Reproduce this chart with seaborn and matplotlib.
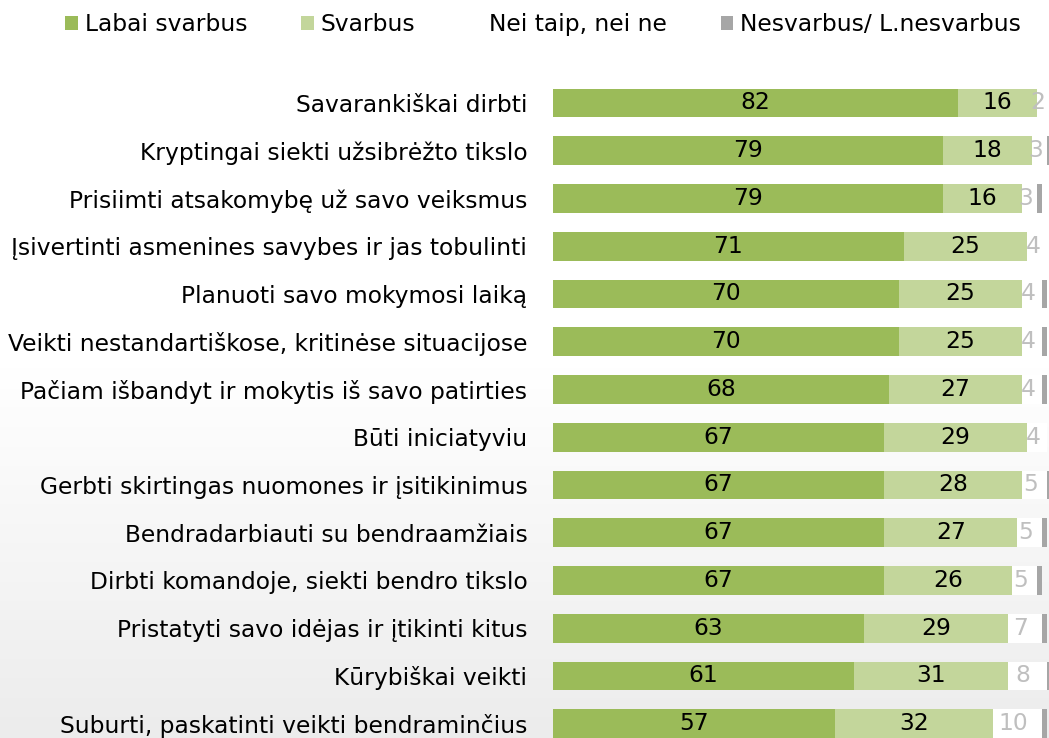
import numpy as np
import pandas as pd
import matplotlib
matplotlib.use("Agg")
import matplotlib.pyplot as plt
import seaborn as sns
from matplotlib.patches import Patch
from matplotlib.colors import LinearSegmentedColormap

categories = [
    "Savarankiškai dirbti",
    "Kryptingai siekti užsibrėžto tikslo",
    "Prisiimti atsakomybę už savo veiksmus",
    "Įsivertinti asmenines savybes ir jas tobulinti",
    "Planuoti savo mokymosi laiką",
    "Veikti nestandartiškose, kritinėse situacijose",
    "Pačiam išbandyt ir mokytis iš savo patirties",
    "Būti iniciatyviu",
    "Gerbti skirtingas nuomones ir įsitikinimus",
    "Bendradarbiauti su bendraamžiais",
    "Dirbti komandoje, siekti bendro tikslo",
    "Pristatyti savo idėjas ir įtikinti kitus",
    "Kūrybiškai veikti",
    "Suburti, paskatinti veikti bendraminčius",
]
labai = [82, 79, 79, 71, 70, 70, 68, 67, 67, 67, 67, 63, 61, 57]
svarbus = [16, 18, 16, 25, 25, 25, 27, 29, 28, 27, 26, 29, 31, 32]
nei = [2, 3, 3, 4, 4, 4, 4, 4, 5, 5, 5, 7, 8, 10]
nesvarbus = [0, 1, 1, 0, 1, 1, 1, 0, 1, 1, 1, 1, 1, 1]
series_names = ["Labai svarbus", "Svarbus", "Nei taip, nei ne", "Nesvarbus/ L.nesvarbus"]
colors = ["#9BBB59", "#C3D69B", "#FFFFFF", "#A6A6A6"]

sns.set_theme(style="white")
plt.rcParams['font.family'] = ['DejaVu Sans']
plt.rcParams['text.color'] = 'black'

df = pd.DataFrame({"cat": categories, "labai": labai, "svarbus": svarbus,
                   "nei": nei, "nesvarbus": nesvarbus})
df["c1"] = df["labai"]
df["c2"] = df["c1"] + df["svarbus"]
df["c3"] = df["c2"] + df["nei"]
df["c4"] = df["c3"] + df["nesvarbus"]

W, H = 1049, 738
fig = plt.figure(figsize=(W / 100, H / 100), dpi=100)

# background gradient
bg = fig.add_axes([0, 0, 1, 1], zorder=-10)
cmap = LinearSegmentedColormap.from_list("g", ["#FFFFFF", "#FFFFFF", "#ECECEC"])
grad = np.linspace(0, 1, 256).reshape(-1, 1)
bg.imshow(grad, aspect="auto", cmap=cmap, extent=[0, 1, 0, 1], origin="upper")
bg.axis("off")

ax = fig.add_axes([553 / W, 0, 1 - 553 / W, 1 - 60 / H])
ax.patch.set_alpha(0)

fs = 16.8
for col, color in zip(["c4", "c3", "c2", "c1"], colors[::-1]):
    sns.barplot(data=df, x=col, y="cat", color=color, saturation=1,
                width=0.6, orient="h", edgecolor="none", linewidth=0, ax=ax)

for i, row in df.iterrows():
    ax.text(row["labai"] / 2, i, f"{row['labai']}", ha="center", va="center",
            fontsize=fs, color="black")
    ax.text(row["c1"] + row["svarbus"] / 2, i, f"{row['svarbus']}", ha="center",
            va="center", fontsize=fs, color="black")
    ax.text(row["c2"] + row["nei"] / 2 - 0.8, i, f"{row['nei']}", ha="center",
            va="center", fontsize=fs, color="#BFBFBF")

ax.set_xlim(0, 100.4)
ax.set_ylim(13.3, -0.9)
ax.set_xlabel("")
ax.set_ylabel("")
ax.set_xticks([])
ax.tick_params(axis="y", length=0, pad=18.5, labelsize=fs, labelcolor="black")
for s in ax.spines.values():
    s.set_visible(False)

handles = [Patch(facecolor=c, edgecolor="none") for c in colors]
leg = fig.legend(handles, series_names, loc="upper left", bbox_to_anchor=(44 / W, 1 + 8 / H),
                 ncol=4, frameon=False, fontsize=fs, handlelength=0.55, handleheight=0.55,
                 handletextpad=0.3, columnspacing=2.3)
for t in leg.get_texts():
    t.set_color("black")

fig.savefig("out.png", dpi=100)
